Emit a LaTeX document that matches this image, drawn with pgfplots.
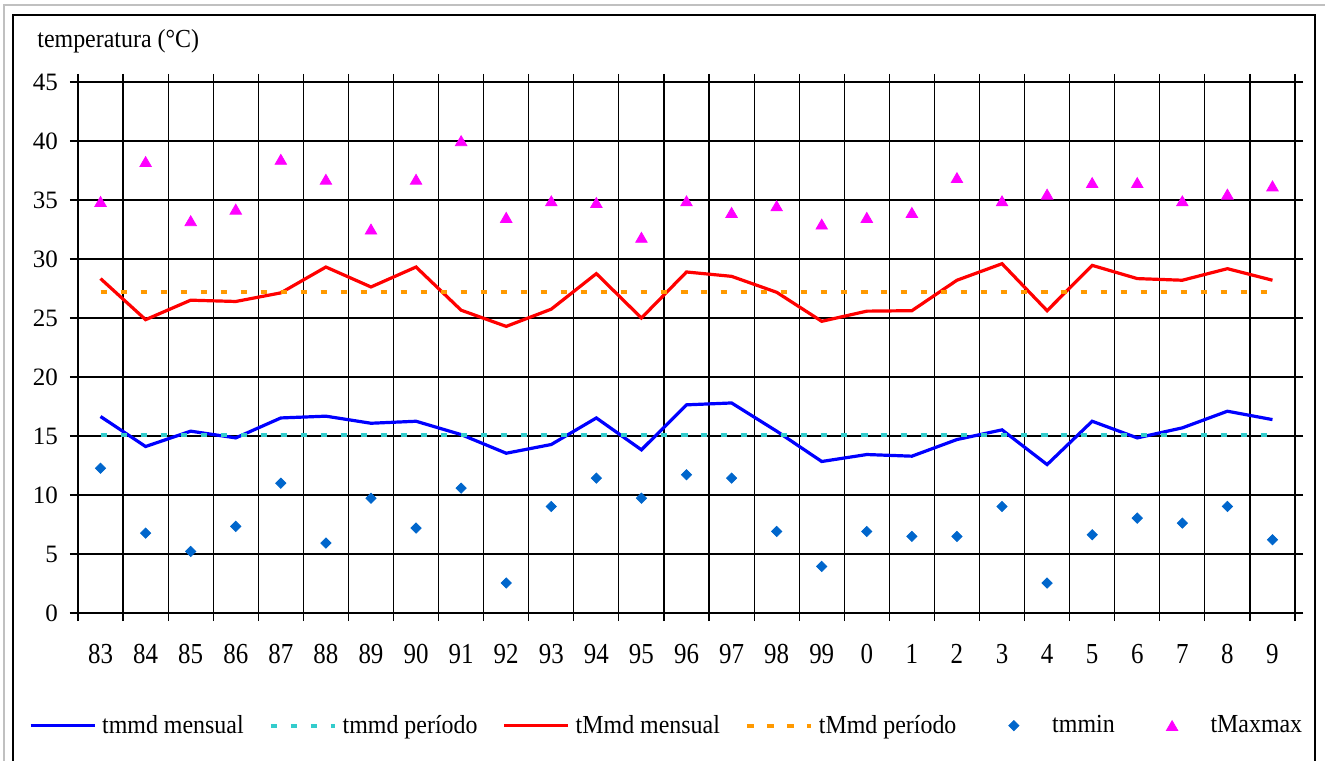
\documentclass[border=0pt]{standalone}
\usepackage{pgfplots}
\pgfplotsset{compat=1.18}
\usepackage{fontspec}
\setmainfont{Liberation Serif}
\newfontfamily\xlabfont{Liberation Serif}[FakeStretch=0.86]
\newfontfamily\legfont{Liberation Serif}[FakeStretch=0.92]
\definecolor{cyanline}{HTML}{33CCCC}
\definecolor{orangeline}{HTML}{FF9900}
\definecolor{diamondc}{HTML}{0066CC}
\definecolor{magentac}{HTML}{FF00FF}
\definecolor{framegray}{HTML}{C0C0C0}
\pgfplotsset{
  linelegend/.style={legend image code/.code={\draw[##1] (0pt,0pt) -- (32pt,0pt);}},
  marklegend/.style={legend image code/.code={\path (0pt,0pt) (32pt,0pt); \draw[mark repeat=2,mark phase=2,##1] plot coordinates {(0pt,0pt) (16pt,0pt) (32pt,0pt)};}},
}
\begin{document}
\begin{tikzpicture}
\useasboundingbox (0,0) rectangle (662.5pt,380pt);
\draw[framegray, line width=0.8pt] (2pt,-5pt) -- (2pt,377.5pt) -- (670pt,377.5pt);
\draw[black, line width=0.9pt] (6.5pt,-5pt) -- (6.5pt,372.5pt) -- (657.5pt,372.5pt) -- (657.5pt,-5pt);
\node[anchor=base west, inner sep=0pt, font=\legfont\fontsize{13}{15}\selectfont] at (18.5pt,356pt) {temperatura (°C)};
\begin{axis}[
  at={(39pt,73.5pt)}, anchor=south west,
  scale only axis, width=608.5pt, height=265.5pt,
  xmin=-0.5, xmax=26.5, ymin=0, ymax=45,
  ytick={0,5,...,45},
  xtick={0,...,26},
  xticklabels={83,84,85,86,87,88,89,90,91,92,93,94,95,96,97,98,99,0,1,2,3,4,5,6,7,8,9},
  minor xtick={-0.5,0.5,...,26.5},
  xminorgrids=true, ymajorgrids=true,
  grid style={black, line width=0.6pt},
  minor grid style={black, line width=0.6pt},
  tick align=outside, major tick length=4pt, minor tick length=4pt,
  tick style={black, line width=0.6pt},
  major x tick style={draw=none},
  axis line style={black, line width=0.8pt},
  extra y ticks={0}, extra y tick labels={},
  extra y tick style={grid style={black, line width=1.3pt}},
  yticklabel style={font=\fontsize{12.5}{15}\selectfont, xshift=-2.5pt},
  /pgf/number format/assume math mode=true,
  xticklabel style={font=\xlabfont\fontsize{14.5}{17}\selectfont, anchor=base, yshift=-21pt},
  legend columns=6,
  legend cell align=left,
  legend style={draw=none, fill=none, at={(rel axis cs:-0.0403,-0.2122)}, anchor=west,
    inner sep=0pt, outer sep=0pt,
    nodes={inner sep=0pt, outer sep=0pt, font=\legfont\fontsize{13}{15}\selectfont},
    /tikz/every odd column/.append style={column sep=3pt},
    /tikz/every even column/.append style={column sep=12.5pt}},
]
\addplot[color=blue, line width=1.6pt, mark=none, linelegend]
coordinates {(0,16.65)(1,14.11)(2,15.41)(3,14.84)(4,16.53)(5,16.68)(6,16.08)(7,16.25)(8,15.12)(9,13.54)(10,14.28)(11,16.53)(12,13.83)(13,17.64)(14,17.80)(15,15.41)(16,12.84)(17,13.43)(18,13.29)(19,14.70)(20,15.52)(21,12.58)(22,16.25)(23,14.84)(24,15.69)(25,17.10)(26,16.39)};
\addlegendentry{tmmd mensual}
\addplot[color=cyanline, line width=2pt, mark=none, dash pattern=on 3.3pt off 6.7pt, linelegend]
coordinates {(0,15.12)(1,15.12)(2,15.12)(3,15.12)(4,15.12)(5,15.12)(6,15.12)(7,15.12)(8,15.12)(9,15.12)(10,15.12)(11,15.12)(12,15.12)(13,15.12)(14,15.12)(15,15.12)(16,15.12)(17,15.12)(18,15.12)(19,15.12)(20,15.12)(21,15.12)(22,15.12)(23,15.12)(24,15.12)(25,15.12)(26,15.12)};
\addlegendentry{tmmd período}
\addplot[color=red, line width=1.6pt, mark=none, linelegend]
coordinates {(0,28.34)(1,24.86)(2,26.51)(3,26.40)(4,27.13)(5,29.32)(6,27.63)(7,29.32)(8,25.66)(9,24.29)(10,25.75)(11,28.76)(12,25.00)(13,28.90)(14,28.53)(15,27.18)(16,24.72)(17,25.58)(18,25.62)(19,28.20)(20,29.60)(21,25.62)(22,29.46)(23,28.34)(24,28.20)(25,29.18)(26,28.20)};
\addlegendentry{tMmd mensual}
\addplot[color=orangeline, line width=2pt, mark=none, dash pattern=on 3.3pt off 6.7pt, linelegend]
coordinates {(0,27.17)(1,27.17)(2,27.17)(3,27.17)(4,27.17)(5,27.17)(6,27.17)(7,27.17)(8,27.17)(9,27.17)(10,27.17)(11,27.17)(12,27.17)(13,27.17)(14,27.17)(15,27.17)(16,27.17)(17,27.17)(18,27.17)(19,27.17)(20,27.17)(21,27.17)(22,27.17)(23,27.17)(24,27.17)(25,27.17)(26,27.17)};
\addlegendentry{tMmd período}
\addplot[only marks, mark=square*, mark size=1.8pt, color=diamondc,
  mark options={rotate=45, draw=diamondc, fill=diamondc}, marklegend]
coordinates {(0,12.27)(1,6.77)(2,5.22)(3,7.34)(4,11.00)(5,5.93)(6,9.73)(7,7.20)(8,10.58)(9,2.54)(10,9.03)(11,11.43)(12,9.73)(13,11.71)(14,11.43)(15,6.91)(16,3.95)(17,6.91)(18,6.49)(19,6.49)(20,9.03)(21,2.54)(22,6.63)(23,8.04)(24,7.62)(25,9.03)(26,6.21)};
\addlegendentry{tmmin}
\addplot[only marks, mark=triangle*, mark size=3.3pt, color=magentac,
  mark options={draw=magentac, fill=magentac, yshift=-0.8pt}, marklegend]
coordinates {(0,34.87)(1,38.25)(2,33.24)(3,34.22)(4,38.44)(5,36.75)(6,32.53)(7,36.75)(8,40.02)(9,33.52)(10,34.92)(11,34.78)(12,31.83)(13,34.92)(14,33.94)(15,34.50)(16,32.95)(17,33.52)(18,33.94)(19,36.89)(20,34.92)(21,35.49)(22,36.47)(23,36.47)(24,34.92)(25,35.49)(26,36.19)};
\addlegendentry{tMaxmax}
\end{axis}
\end{tikzpicture}
\end{document}
